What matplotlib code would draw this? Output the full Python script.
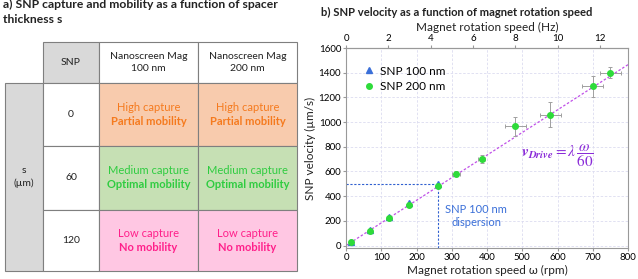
import numpy as np
import matplotlib
matplotlib.use("Agg")
import matplotlib.pyplot as plt
from matplotlib.patches import Rectangle

plt.rcParams['font.family'] = ['Lato', 'DejaVu Sans']

# ---- data ----
col_labels = ["SNP", "Nanoscreen Mag\n100 nm", "Nanoscreen Mag\n200 nm"]
row_values = ["0", "60", "120"]
row_group_label = "s\n(\u00b5m)"
cell_top = ["High capture", "Medium capture", "Low capture"]
cell_bottom = ["Partial mobility", "Optimal mobility", "No mobility"]
cell_fill = ["#F8CBAD", "#C6E0B4", "#FFC7E3"]
cell_text = ["#F57A1E", "#2ECC40", "#FF1F8A"]

rpm_100 = [15, 68, 122, 178, 260]
vel_100 = [25, 125, 235, 345, 500]
rpm_200 = [15, 68, 122, 178, 260, 312, 385, 480, 580, 700, 750]
vel_200 = [30, 120, 225, 325, 480, 580, 700, 965, 1060, 1290, 1400]
xerr_200 = [5, 5, 5, 5, 5, 12, 10, 30, 30, 30, 30]
yerr_200 = [10, 10, 10, 15, 15, 20, 30, 80, 100, 85, 45]
fit_rpm = [0, 800]
fit_vel = [0, 1465]
disp_rpm = 260
disp_vel = 500

fig = plt.figure(figsize=(6.38, 2.79), dpi=100)

# ---- panel a: table ----
ta = fig.add_axes([0, 0, 1, 1])
ta.set_xlim(0, 638)
ta.set_ylim(279, 0)
ta.axis("off")
ta.text(3, 12, "a) SNP capture and mobility as a function of spacer\nthickness s",
        fontsize=8.7, fontweight="bold", va="center", ha="left", linespacing=1.4,
        color="#222222")

xs = [5, 43, 99, 198, 297]
ys = [42, 83, 146, 210, 271]
edge = "#7f7f7f"
# header row
ta.add_patch(Rectangle((xs[1], ys[0]), xs[2] - xs[1], ys[1] - ys[0], fc="#D9D9D9", ec=edge, lw=0.8))
for j in range(1, 3):
    ta.add_patch(Rectangle((xs[j + 1], ys[0]), xs[j + 2] - xs[j + 1], ys[1] - ys[0], fc="white", ec=edge, lw=0.8))
for j, lab in enumerate(col_labels):
    ta.text((xs[j + 1] + xs[j + 2]) / 2, (ys[0] + ys[1]) / 2, lab, ha="center", va="center",
            fontsize=7.5, color="#222222", linespacing=1.5)
# left grey column
ta.add_patch(Rectangle((xs[0], ys[1]), xs[1] - xs[0], ys[4] - ys[1], fc="#D9D9D9", ec=edge, lw=0.8))
ta.text((xs[0] + xs[1]) / 2, (ys[1] + ys[4]) / 2, row_group_label, ha="center", va="center",
        fontsize=7.5, color="#222222", linespacing=1.5)
for i in range(3):
    y0, y1 = ys[i + 1], ys[i + 2]
    ta.add_patch(Rectangle((xs[1], y0), xs[2] - xs[1], y1 - y0, fc="white", ec=edge, lw=0.8))
    ta.text((xs[1] + xs[2]) / 2, (y0 + y1) / 2, row_values[i], ha="center", va="center",
            fontsize=7.5, color="#222222")
    for j in range(2):
        xa, xb = xs[j + 2], xs[j + 3]
        ta.add_patch(Rectangle((xa, y0), xb - xa, y1 - y0, fc=cell_fill[i], ec=edge, lw=0.8))
        ta.text((xa + xb) / 2, (y0 + y1) / 2 - 7, cell_top[i], ha="center", va="center",
                fontsize=8, color=cell_text[i])
        ta.text((xa + xb) / 2, (y0 + y1) / 2 + 7, cell_bottom[i], ha="center", va="center",
                fontsize=8, color=cell_text[i], fontweight="bold")

# ---- panel b ----
fig.text(321 / 638, 1 - 12 / 279, "b) SNP velocity as a function of magnet rotation speed",
         fontsize=8.1, fontweight="bold", va="center", ha="left", color="#222222")

ax = fig.add_axes([346 / 638, 31 / 279, 282 / 638, 200 / 279])
ax.set_xlim(0, 800)
ax.set_ylim(-20, 1600)
ax.set_xticks(range(0, 801, 100))
ax.set_yticks(range(0, 1601, 200))
ax.grid(True, color="#dcdcf0", lw=0.6, ls=(0, (3, 2)))
ax.set_axisbelow(True)
for s in ax.spines.values():
    s.set_color("#999999")
ax.tick_params(labelsize=7, length=2, color="#999999", pad=1.5)

ax.plot(fit_rpm, fit_vel, color="#C050E8", ls=(0, (2, 1.5)), lw=0.9, zorder=2)
ax.plot([0, disp_rpm], [disp_vel, disp_vel], color="#3060D0", ls=(0, (2, 1.5)), lw=0.8, zorder=2)
ax.plot([disp_rpm, disp_rpm], [-20, disp_vel], color="#3060D0", ls=(0, (2, 1.5)), lw=0.8, zorder=2)

ax.errorbar(rpm_200, vel_200, xerr=xerr_200, yerr=yerr_200, fmt="none", ecolor="#a0a0a0",
            elinewidth=0.7, capsize=1.5, capthick=0.7, zorder=3)
ax.plot(rpm_100, vel_100, "^", color="#3A6FD8", ms=4.5, ls="none", label="SNP 100 nm", zorder=4)
ax.plot(rpm_200, vel_200, "o", color="#2EDB3A", ms=4, ls="none", label="SNP 200 nm", zorder=5)

ax.legend(loc="upper left", frameon=False, fontsize=8.5, handletextpad=0.3,
          borderaxespad=0.5, bbox_to_anchor=(0.02, 0.965), labelspacing=0.35, handlelength=1.2)

ax.text(370, 240, "SNP 100 nm\ndispersion", color="#3A6FD8", fontsize=8, ha="center",
        va="center", linespacing=1.3)
ax.text(600, 730, r"$\mathbfit{v_{Drive}} = \lambda\,\dfrac{\omega}{60}$", color="#8A2BD8",
        fontsize=11, ha="center", va="center", math_fontfamily="stix")

ax.set_xlabel("Magnet rotation speed \u03c9 (rpm)", fontsize=8.5, labelpad=2, color="#222222")
ax.set_ylabel("SNP velocity (\u00b5m/s)", fontsize=8.5, labelpad=2, color="#222222")

sec = ax.secondary_xaxis("top", functions=(lambda x: x / 60, lambda h: h * 60))
sec.set_xticks(range(0, 13, 2))
sec.tick_params(labelsize=7, length=2, color="#999999", pad=1.5)
sec.spines["top"].set_color("#999999")
sec.set_xlabel("Magnet rotation speed (Hz)", fontsize=8.5, labelpad=2, color="#222222")

fig.savefig("out.png", dpi=100)
